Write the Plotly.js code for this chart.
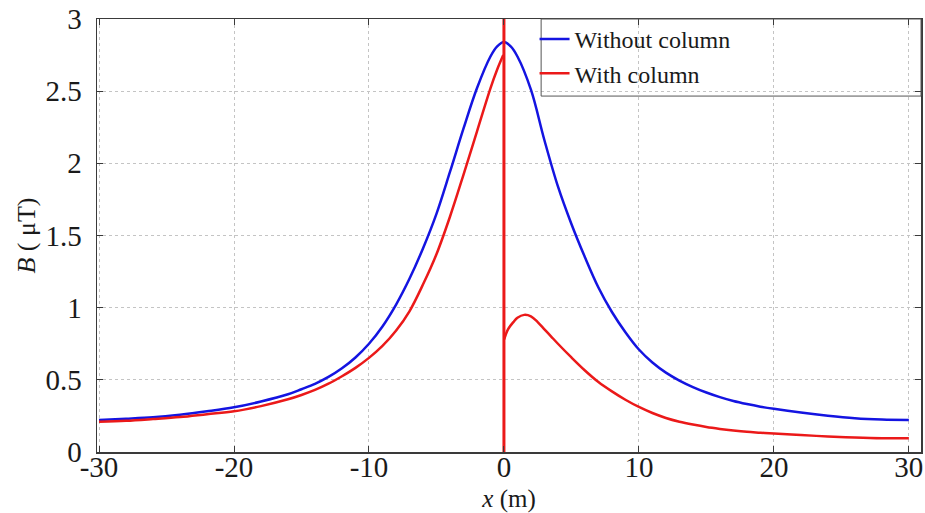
<!DOCTYPE html>
<html>
<head>
<meta charset="utf-8">
<script src="https://cdn.plot.ly/plotly-3.0.1.min.js"></script>
<style>html,body{margin:0;padding:0;background:#fff;}#chart{width:925px;height:513px;}</style>
</head>
<body>
<div id="chart"></div>
<script>
// Without column (blue)
const xWithout = [-30,-28,-26,-24,-22,-20,-18,-16,-15,-14,-13,-12,-11,-10,-9,-8,-7,-6,-5,-4,-3,-2,-1,-0.5,0,
  0.5,1,2,3,4,5,6,7,8,9,10,11,12,13,14,15,16,17,18,19,20,22,24,26,28,30];
const bWithout = [0.222,0.230,0.240,0.258,0.282,0.310,0.350,0.400,0.435,0.472,0.520,0.580,0.655,0.750,0.870,1.020,1.200,1.410,1.650,1.940,2.240,2.520,2.740,2.810,2.840,
  2.810,2.740,2.510,2.160,1.840,1.580,1.350,1.140,0.970,0.830,0.710,0.620,0.550,0.495,0.450,0.412,0.380,0.353,0.332,0.314,0.299,0.273,0.251,0.234,0.225,0.222];

// With column (red): left of the column, the column line at x = 0, right of the column
const xWithLeft = [-30,-28,-26,-24,-22,-20,-18,-16,-15,-14,-13,-12,-11,-10,-9,-8,-7,-6,-5,-4,-3,-2,-1,-0.5,-0.05];
const bWithLeft = [0.210,0.216,0.228,0.242,0.262,0.282,0.318,0.365,0.395,0.430,0.473,0.525,0.583,0.652,0.735,0.840,0.975,1.160,1.370,1.630,1.920,2.220,2.520,2.650,2.750];
const xWithColumn = [0, 0];
const bWithColumn = [3.5, 0];
const xWithRight = [0.02,0.3,0.7,1.0,1.5,2.0,2.5,3.0,3.5,4,5,6,7,8,9,10,11,12,13,14,15,16,17,18,19,20,22,24,26,28,30];
const bWithRight = [0.780,0.850,0.900,0.930,0.950,0.940,0.900,0.850,0.800,0.750,0.655,0.565,0.485,0.420,0.362,0.312,0.270,0.236,0.210,0.190,0.173,0.160,0.149,0.140,0.134,0.128,0.117,0.108,0.100,0.095,0.095];

const xTicks = [-30,-20,-10,0,10,20,30];
const yTicks = [0,0.5,1,1.5,2,2.5,3];
const seriesNames = ["Without column","With column"];

const FONT = 'Liberation Serif, Times New Roman, DejaVu Serif, serif';
const BLUE = 'rgb(20,20,225)', RED = 'rgb(235,25,25)';
const traces = [
  {x: xWithout, y: bWithout, name: seriesNames[0], type: 'scatter', mode: 'lines',
   line: {color: BLUE, width: 2.5, shape: 'spline', smoothing: 1}},
  {x: xWithLeft, y: bWithLeft, name: seriesNames[1], legendgroup: 'with', type: 'scatter', mode: 'lines',
   line: {color: RED, width: 2.5, shape: 'spline', smoothing: 1}},
  {x: xWithColumn, y: bWithColumn, name: seriesNames[1], legendgroup: 'with', showlegend: false,
   type: 'scatter', mode: 'lines', line: {color: RED, width: 3}},
  {x: xWithRight, y: bWithRight, name: seriesNames[1], legendgroup: 'with', showlegend: false,
   type: 'scatter', mode: 'lines', line: {color: RED, width: 2.5, shape: 'spline', smoothing: 1}}
];

const axisCommon = {
  showline: true, linecolor: '#3a3a3a', linewidth: 1.5, mirror: 'ticks',
  ticks: 'inside', ticklen: 6, tickcolor: '#3a3a3a', tickwidth: 1,
  showgrid: true, gridcolor: '#c4c4c4', gridwidth: 1, griddash: 'dot',
  zeroline: false, tickfont: {family: FONT, size: 29, color: '#1a1a1a'}
};

const layout = {
  width: 925, height: 513,
  margin: {l: 97, r: 4, t: 19, b: 61},
  paper_bgcolor: '#fff', plot_bgcolor: '#fff',
  font: {family: FONT, color: '#1a1a1a'},
  showlegend: true,
  xaxis: Object.assign({}, axisCommon, {
    range: [-30.15, 30.9], tickvals: xTicks, ticktext: xTicks.map(String),
    ticklabelstandoff: -11,
    title: {text: '<i>x</i> (m)', font: {family: FONT, size: 25, color: '#1a1a1a'}}
  }),
  yaxis: Object.assign({}, axisCommon, {
    range: [0, 3], tickvals: yTicks, ticktext: yTicks.map(String),
    ticklabelstandoff: 8,
    title: {text: '<i>B</i> ( μT)', font: {family: FONT, size: 26, color: '#1a1a1a'}}
  }),
  legend: {
    x: 0.531, xanchor: 'left', y: 1.005, yanchor: 'top',
    bgcolor: 'rgba(0,0,0,0)', borderwidth: 0,
    font: {family: FONT, size: 24, color: '#1a1a1a'},
    itemwidth: 30, tracegroupgap: 0
  },
  shapes: [{
    type: 'rect', xref: 'paper', yref: 'paper', x0: 0.539, x1: 1, y0: 0.822, y1: 1,
    line: {color: '#555', width: 1}, fillcolor: 'rgba(0,0,0,0)', layer: 'above'
  }]
};

Plotly.newPlot('chart', traces, layout, {displayModeBar: false, staticPlot: true});
</script>
</body>
</html>
